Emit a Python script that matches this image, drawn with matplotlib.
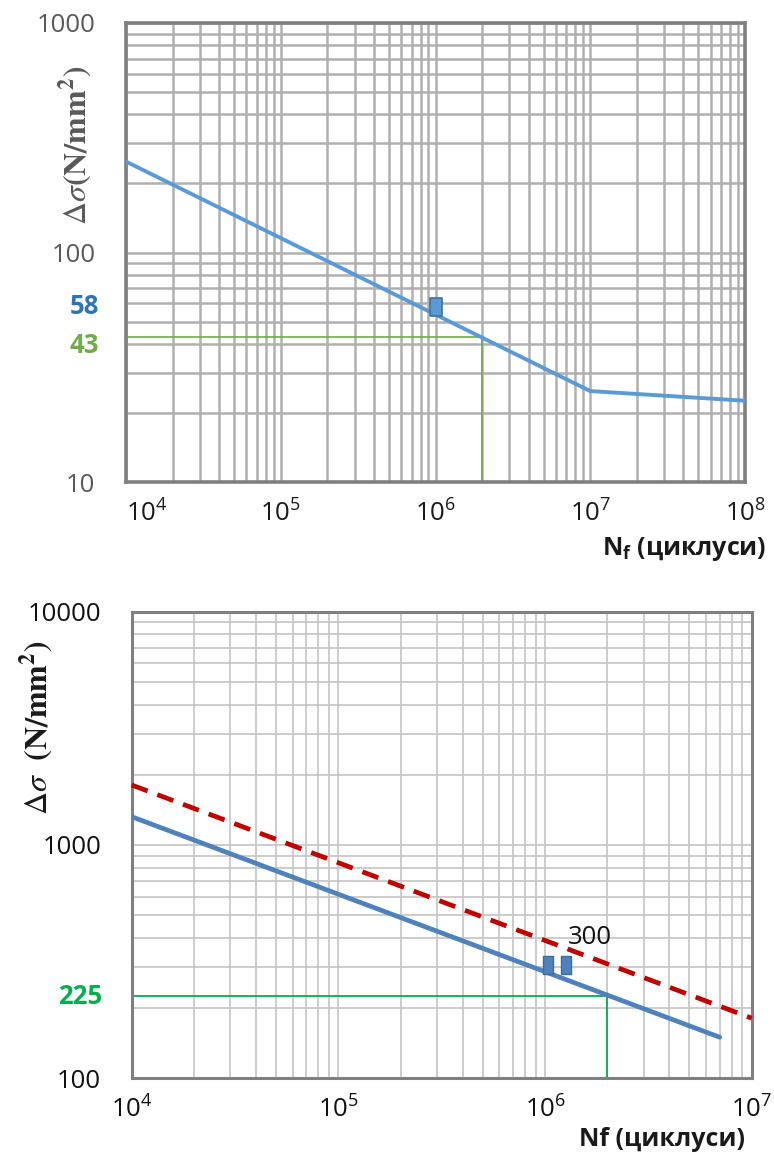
import numpy as np
import matplotlib
matplotlib.use('Agg')
import matplotlib.pyplot as plt
from matplotlib.ticker import FixedLocator, LogLocator, FuncFormatter, NullFormatter
from matplotlib import transforms

# ---- data ----
# top chart: S-N curve
top_n = [1e4, 1e7, 1e8]
top_ds = [249, 24.9, 22.6]
top_pt_n = [1e6]
top_pt_ds = [58]
top_ref_n = [1e4, 2e6, 2e6]
top_ref_ds = [43, 43, 10]
top_yticks = [10, 100, 1000]
top_xticks = [1e4, 1e5, 1e6, 1e7, 1e8]

# bottom chart: two S-N curves
bot_n = [1e4, 7e6]
bot_ds = [1322, 150]
bot_up_n = [1e4, 1e7]
bot_up_ds = [1808, 181]
bot_pt_n = [1.03e6, 1.26e6]
bot_pt_ds = [307, 307]
bot_ref_n = [1e4, 2e6, 2e6]
bot_ref_ds = [225, 225, 100]
bot_yticks = [100, 1000, 10000]
bot_xticks = [1e4, 1e5, 1e6, 1e7]
bot_note = ('300', 1.29e6, 403)

SANS = ['Open Sans', 'DejaVu Sans']
plt.rcParams['font.family'] = SANS

W, H = 774, 1155
fig = plt.figure(figsize=(W / 100, H / 100), dpi=100)


def px_axes(l, t, r, b):
    return fig.add_axes([l / W, 1 - b / H, (r - l) / W, (b - t) / H])


def pow10(v, pos):
    return r'$\mathregular{10^{%d}}$' % int(round(np.log10(v)))


# rectangle markers (taller than wide)
rect_top = [(-6, -8.5), (6, -8.5), (6, 8.5), (-6, 8.5), (-6, -8.5)]
rect_bot = [(-5, -8.5), (5, -8.5), (5, 8.5), (-5, 8.5), (-5, -8.5)]


def style_axes(ax, xlim, ylim, xticks, yticks, grid_c, grid_w, spine_w, ycol, xcol):
    ax.set_xscale('log')
    ax.set_yscale('log')
    ax.set_xlim(*xlim)
    ax.set_ylim(*ylim)
    ax.xaxis.set_major_locator(FixedLocator(xticks))
    ax.yaxis.set_major_locator(FixedLocator(yticks))
    ax.xaxis.set_minor_locator(LogLocator(base=10, subs=np.arange(2, 10), numticks=20))
    ax.yaxis.set_minor_locator(LogLocator(base=10, subs=np.arange(2, 10), numticks=20))
    ax.xaxis.set_minor_formatter(NullFormatter())
    ax.yaxis.set_minor_formatter(NullFormatter())
    ax.xaxis.set_major_formatter(FuncFormatter(pow10))
    ax.yaxis.set_major_formatter(FuncFormatter(lambda v, p: '%d' % v))
    ax.grid(True, which='both', color=grid_c, lw=grid_w, zorder=0)
    ax.set_axisbelow(True)
    ax.tick_params(which='both', length=0)
    ax.tick_params(axis='y', pad=22, labelsize=18.5, labelcolor=ycol)
    ax.tick_params(axis='x', pad=13, labelsize=18.5, labelcolor=xcol)
    for s in ax.spines.values():
        s.set_color('#808080')
        s.set_linewidth(spine_w)


# ---------------- top chart ----------------
ax1 = px_axes(126, 23, 745, 482)
style_axes(ax1, (1e4, 1e8), (10, 1000), top_xticks, top_yticks,
           '#b0b0b0', 1.8, 2.6, '#595959', '#1a1a1a')
ax1.plot(top_ref_n, top_ref_ds, color='#70AD47', lw=1.2, zorder=2)
ax1.plot(top_n, top_ds, color='#5B9BD5', lw=2.8, zorder=3, solid_capstyle='butt')
ax1.plot(top_pt_n, top_pt_ds, ls='none', marker=rect_top, ms=12.5,
         mfc='#5B9BD5', mec='#41719C', mew=1.2, zorder=4)
for lab in ax1.get_xticklabels()[:1]:
    lab.set_horizontalalignment('left')

yt = transforms.blended_transform_factory(ax1.transAxes, ax1.transData)
ax1.text(-0.044, 58, '58', transform=yt, ha='right', va='center',
         fontsize=18.5, fontweight='bold', color='#2E75B6')
ax1.text(-0.044, 43, '43', transform=yt + transforms.ScaledTranslation(0, -9 / 100, fig.dpi_scale_trans),
         ha='right', va='center', fontsize=18.5, fontweight='bold', color='#70AD47')

fig.text(75 / W, 1 - 145 / H, r'$\Delta\sigma\mathbf{(N/mm^{2})}$', rotation=90,
         ha='center', va='center', fontsize=23, color='#595959', math_fontfamily='stix')
fig.text(766 / W, 1 - 549 / H, r'$\mathregular{N_f}$ (циклуси)', ha='right', va='center',
         fontsize=18, fontweight='bold', color='#1a1a1a')

# ---------------- bottom chart ----------------
ax2 = px_axes(131.7, 611.7, 751.7, 1078.3)
style_axes(ax2, (1e4, 1e7), (100, 10000), bot_xticks, bot_yticks,
           '#c8c8c8', 1.3, 2.2, '#111111', '#111111')
ax2.plot(bot_ref_n, bot_ref_ds, color='#00B050', lw=1.3, zorder=2)
ax2.plot(bot_n, bot_ds, color='#4F81BD', lw=3.4, zorder=3, solid_capstyle='round')
ax2.plot(bot_up_n, bot_up_ds, color='#C00000', lw=3.4, ls=(0, (3.6, 2.2)), zorder=3,
         clip_on=False)
ax2.plot(bot_pt_n, bot_pt_ds, ls='none', marker=rect_bot, ms=12.5,
         mfc='#4F81BD', mec='#3A6BA5', mew=1.0, zorder=4)
ax2.text(bot_note[1], bot_note[2], bot_note[0], ha='left', va='center',
         fontsize=18.5, color='#111111', zorder=5)

yt2 = transforms.blended_transform_factory(ax2.transAxes, ax2.transData)
ax2.text(-0.047, 225, '225', transform=yt2, ha='right', va='center',
         fontsize=18.5, fontweight='bold', color='#00B050')

fig.text(36 / W, 1 - 728 / H, r'$\Delta\sigma\ \ \mathbf{(N/mm^{2})}$', rotation=90,
         ha='center', va='center', fontsize=23, color='#1a1a1a', math_fontfamily='stix')
fig.text(745 / W, 1 - 1139 / H, 'Nf (циклуси)', ha='right', va='center',
         fontsize=18, fontweight='bold', color='#1a1a1a')

fig.savefig('out.png', dpi=100)
